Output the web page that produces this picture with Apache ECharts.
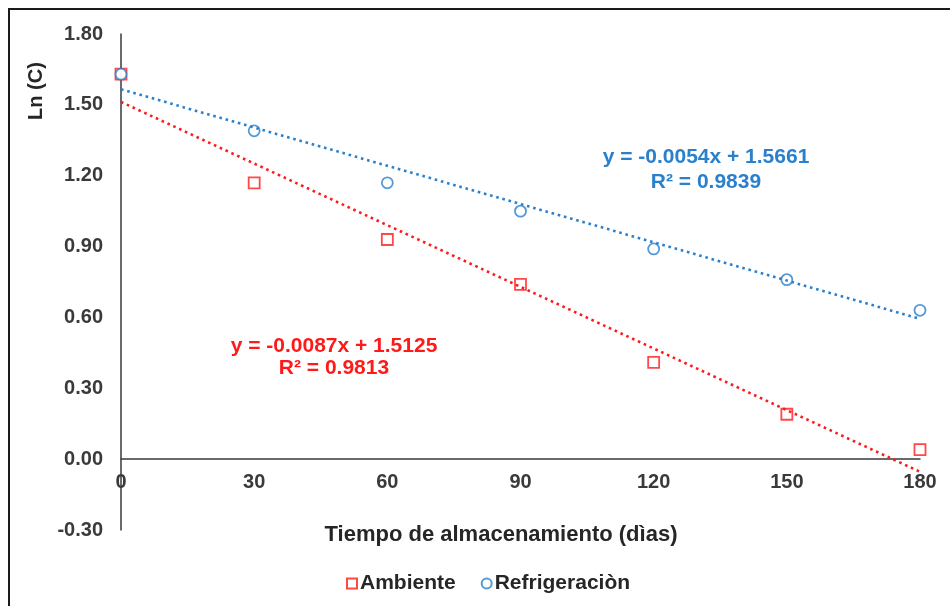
<!DOCTYPE html>
<html>
<head>
<meta charset="utf-8">
<script src="https://cdn.jsdelivr.net/npm/echarts@6/dist/echarts.min.js"></script>
<style>
  html, body { margin: 0; padding: 0; background: #fff; }
  #chart { width: 950px; height: 606px; }
</style>
</head>
<body>
<div id="chart"></div>
<script>
// storage days
var dias = [0, 30, 60, 90, 120, 150, 180];
// Ln(C) values
var ambiente = [1.63, 1.17, 0.93, 0.74, 0.41, 0.19, 0.04];
var refrigeracion = [1.63, 1.39, 1.17, 1.05, 0.89, 0.76, 0.63];
// linear trendlines, value at first and last day (from shown equations)
var trendDias = [0, 180];
var trendAmbiente = [1.5125, -0.0535];
var trendRefrigeracion = [1.5661, 0.5941];
var yTicks = [-0.30, 0.00, 0.30, 0.60, 0.90, 1.20, 1.50, 1.80];

var RED = '#ff1a1a';
var BLUE = '#2a80cc';
var FONT = '"Liberation Sans", Arial, sans-serif';

var GRID_TOP = 34, GRID_BOTTOM = 76, CHART_H = 606;

function pairs(xs, ys) {
    return xs.map(function(x, i) { return [x, ys[i]]; });
}

// x axis sits on y = 0, labels follow it -> shift axis up by the pixel distance of 0 from the bottom
var plotH = CHART_H - GRID_TOP - GRID_BOTTOM;
var yMin = yTicks[0], yMax = yTicks[yTicks.length - 1];
var zeroOffset = -plotH * (0 - yMin) / (yMax - yMin);

var chart = echarts.init(document.getElementById('chart'));

var option = {
    backgroundColor: '#ffffff',
    animation: false,
    textStyle: { fontFamily: FONT },
    grid: {
        left: 121,
        right: 30,
        top: GRID_TOP,
        bottom: GRID_BOTTOM,
        containLabel: false
    },
    legend: {
        left: 341,
        top: 568,
        itemWidth: 10,
        itemHeight: 10,
        itemGap: 25,
        data: ['Ambiente', 'Refrigeraciòn'],
        textStyle: {
            fontFamily: FONT,
            fontSize: 21,
            fontWeight: 'bold',
            color: '#262626',
            padding: [0, 0, 0, -2]
        }
    },
    xAxis: {
        type: 'value',
        min: 0,
        max: 180,
        interval: 30,
        offset: zeroOffset,
        axisLine: { onZero: false, lineStyle: { color: '#3a3a3a', width: 1.5 } },
        axisTick: { show: false },
        splitLine: { show: false },
        axisLabel: {
            margin: 13,
            fontSize: 20,
            fontWeight: 'bold',
            color: '#3a3a3a',
            fontFamily: FONT
        }
    },
    yAxis: {
        type: 'value',
        min: yMin,
        max: yMax,
        interval: 0.3,
        axisLine: { show: true, lineStyle: { color: '#3a3a3a', width: 1.5 } },
        axisTick: { show: false },
        splitLine: { show: false },
        axisLabel: {
            margin: 18,
            fontSize: 20,
            fontWeight: 'bold',
            color: '#3a3a3a',
            fontFamily: FONT,
            formatter: function(v) { return v.toFixed(2); }
        }
    },
    graphic: [
        {
            type: 'rect',
            silent: true,
            shape: { x: 9, y: 9, width: 980, height: 640 },
            style: { fill: 'none', stroke: '#1a1a1a', lineWidth: 2 }
        },
        {
            type: 'text',
            x: 36,
            y: 91,
            rotation: Math.PI / 2,
            style: {
                text: 'Ln (C)',
                fontFamily: FONT,
                fontSize: 20,
                fontWeight: 'bold',
                fill: '#262626',
                align: 'center',
                verticalAlign: 'middle'
            }
        },
        {
            type: 'text',
            x: 501,
            y: 535,
            style: {
                text: 'Tiempo de almacenamiento (dìas)',
                fontFamily: FONT,
                fontSize: 22,
                fontWeight: 'bold',
                fill: '#262626',
                align: 'center',
                verticalAlign: 'middle'
            }
        },
        {
            type: 'text',
            x: 706,
            y: 170,
            style: {
                text: 'y = -0.0054x + 1.5661\nR² = 0.9839',
                fontFamily: FONT,
                fontSize: 21,
                fontWeight: 'bold',
                lineHeight: 25,
                fill: BLUE,
                align: 'center',
                verticalAlign: 'middle'
            }
        },
        {
            type: 'text',
            x: 334,
            y: 357,
            style: {
                text: 'y = -0.0087x + 1.5125\nR² = 0.9813',
                fontFamily: FONT,
                fontSize: 21,
                fontWeight: 'bold',
                lineHeight: 22,
                fill: RED,
                align: 'center',
                verticalAlign: 'middle'
            }
        }
    ],
    series: [
        {
            name: 'Ambiente',
            type: 'scatter',
            symbol: 'rect',
            symbolSize: 11,
            data: pairs(dias, ambiente),
            itemStyle: { color: '#ffffff', borderColor: RED, borderWidth: 1.8 },
            z: 3
        },
        {
            name: 'Refrigeraciòn',
            type: 'scatter',
            symbol: 'circle',
            symbolSize: 11,
            data: pairs(dias, refrigeracion),
            itemStyle: { color: '#ffffff', borderColor: BLUE, borderWidth: 1.8 },
            z: 3
        },
        {
            name: 'trend-ambiente',
            type: 'line',
            data: pairs(trendDias, trendAmbiente),
            symbol: 'none',
            silent: true,
            lineStyle: { color: RED, width: 2.6, type: [2.6, 3.8] },
            z: 4
        },
        {
            name: 'trend-refrigeracion',
            type: 'line',
            data: pairs(trendDias, trendRefrigeracion),
            symbol: 'none',
            silent: true,
            lineStyle: { color: BLUE, width: 2.6, type: [2.6, 3.8] },
            z: 4
        }
    ]
};

chart.setOption(option);
</script>
</body>
</html>
